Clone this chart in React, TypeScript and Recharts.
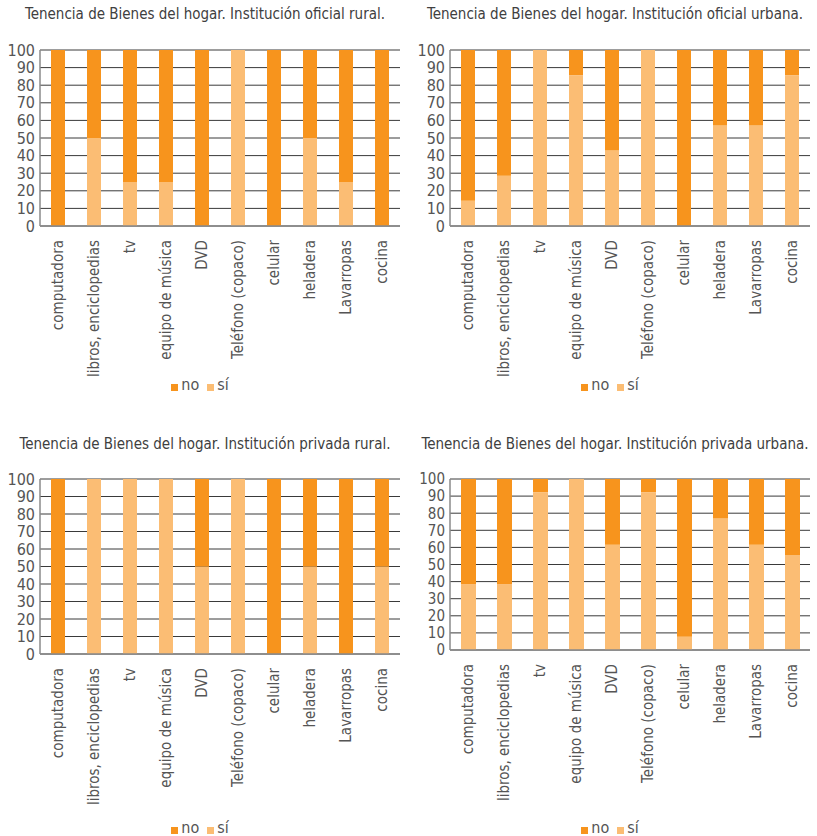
import { BarChart, Bar, XAxis, YAxis, CartesianGrid, Legend } from 'recharts'

const CATEGORIAS = ['computadora', 'libros, enciclopedias', 'tv', 'equipo de música', 'DVD', 'Teléfono (copaco)', 'celular', 'heladera', 'Lavarropas', 'cocina']
const Y_TICKS = [0, 10, 20, 30, 40, 50, 60, 70, 80, 90, 100]

const SI_OFICIAL_RURAL = [0, 50, 25, 25, 0, 100, 0, 50, 25, 0]
const NO_OFICIAL_RURAL = [100, 50, 75, 75, 100, 0, 100, 50, 75, 100]

const SI_OFICIAL_URBANA = [14.3, 28.6, 100, 85.7, 42.9, 100, 0, 57.1, 57.1, 85.7]
const NO_OFICIAL_URBANA = [85.7, 71.4, 0, 14.3, 57.1, 0, 100, 42.9, 42.9, 14.3]

const SI_PRIVADA_RURAL = [0, 100, 100, 100, 50, 100, 0, 50, 0, 50]
const NO_PRIVADA_RURAL = [100, 0, 0, 0, 50, 0, 100, 50, 100, 50]

const SI_PRIVADA_URBANA = [38.5, 38.5, 92.3, 100, 61.5, 92.3, 7.7, 76.9, 61.5, 55.6]
const NO_PRIVADA_URBANA = [61.5, 61.5, 7.7, 0, 38.5, 7.7, 92.3, 23.1, 38.5, 44.4]

const COLOR_NO = '#F7941D'
const COLOR_SI = '#FBBD74'
const FONT = "'DejaVu Sans Condensed', 'DejaVu Sans', sans-serif"

// orden de la leyenda: no, sí
const SERIES = [
  { key: 'no', name: 'no', color: COLOR_NO },
  { key: 'si', name: 'sí', color: COLOR_SI },
]

function build(si: number[], no: number[]) {
  return CATEGORIAS.map((c, i) => ({ cat: c, si: si[i], no: no[i] }))
}

const CatTick = ({ x, y, payload }: any) => (
  <g transform={`translate(${x},${y})`}>
    <text transform="rotate(-90)" x={-6} y={0} dy="0.36em" textAnchor="end"
      fill="#555" fontSize={15} fontFamily={FONT} style={{ fontStretch: 'condensed' }}>
      {payload.value}
    </text>
  </g>
)

const LegendBox = () => (
  <div style={{ display: 'flex', justifyContent: 'center', alignItems: 'center', gap: 8, fontFamily: FONT, fontStretch: 'condensed', fontSize: 16, color: '#555', lineHeight: '16px' }}>
    {SERIES.map(s => (
      <span key={s.key} style={{ display: 'flex', alignItems: 'center', gap: 3 }}>
        <span style={{ display: 'inline-block', width: 7, height: 7, background: s.color, marginTop: 4 }} />
        <span>{s.name}</span>
      </span>
    ))}
  </div>
)

interface PanelProps {
  titulo: string
  data: { cat: string; si: number; no: number }[]
  left: number
  top: number
  height: number
  plotTop: number
  xAxisH: number
  bottom: number
  barSize: number
  yFont: number
}

function Panel({ titulo, data, left, top, height, plotTop, xAxisH, bottom, barSize, yFont }: PanelProps) {
  return (
    <div style={{ position: 'absolute', left, top, width: 410, height }}>
      <div style={{ position: 'absolute', left: 0, top: 5, width: 410, textAlign: 'center', fontFamily: FONT, fontStretch: 'condensed', fontSize: 15, color: '#404040' }}>
        {titulo}
      </div>
      <div style={{ position: 'absolute', left: 0, top: 0 }}>
        <BarChart width={410} height={height} data={data} margin={{ top: plotTop, right: 10, left: 0, bottom }} barSize={barSize}>
          <CartesianGrid vertical={false} stroke="#3a3a3a" />
          <XAxis dataKey="cat" interval={0} tick={<CatTick />} tickLine={false} axisLine={{ stroke: '#8a8a8a', strokeWidth: 1.5 }} height={xAxisH} />
          <YAxis domain={[0, 100]} ticks={Y_TICKS} interval={0} width={40} tickLine={false} tickSize={0} tickMargin={5}
            axisLine={{ stroke: '#8a8a8a', strokeWidth: 1.5 }} tick={{ fill: '#555', fontSize: yFont, fontFamily: FONT, style: { fontStretch: 'condensed' } }} />
          <Legend verticalAlign="bottom" height={16} content={<LegendBox />} />
          <Bar dataKey="si" name="sí" stackId="a" fill={COLOR_SI} isAnimationActive={false} />
          <Bar dataKey="no" name="no" stackId="a" fill={COLOR_NO} isAnimationActive={false} />
        </BarChart>
      </div>
    </div>
  )
}

export default function App() {
  return (
    <div style={{ position: 'absolute', left: 0, top: 0, width: 817, height: 836, background: '#fff' }}>
      <Panel titulo="Tenencia de Bienes del hogar. Institución oficial rural." data={build(SI_OFICIAL_RURAL, NO_OFICIAL_RURAL)}
        left={0} top={0} height={400} plotTop={50} xAxisH={151} bottom={7} barSize={14} yFont={16} />
      <Panel titulo="Tenencia de Bienes del hogar. Institución oficial urbana." data={build(SI_OFICIAL_URBANA, NO_OFICIAL_URBANA)}
        left={410} top={0} height={400} plotTop={50} xAxisH={151} bottom={7} barSize={14} yFont={16} />
      <Panel titulo="Tenencia de Bienes del hogar. Institución privada rural." data={build(SI_PRIVADA_RURAL, NO_PRIVADA_RURAL)}
        left={0} top={430} height={406} plotTop={49} xAxisH={166} bottom={0} barSize={14} yFont={16} />
      <Panel titulo="Tenencia de Bienes del hogar. Institución privada urbana." data={build(SI_PRIVADA_URBANA, NO_PRIVADA_URBANA)}
        left={410} top={430} height={406} plotTop={49} xAxisH={170} bottom={0} barSize={15} yFont={15} />
    </div>
  )
}
